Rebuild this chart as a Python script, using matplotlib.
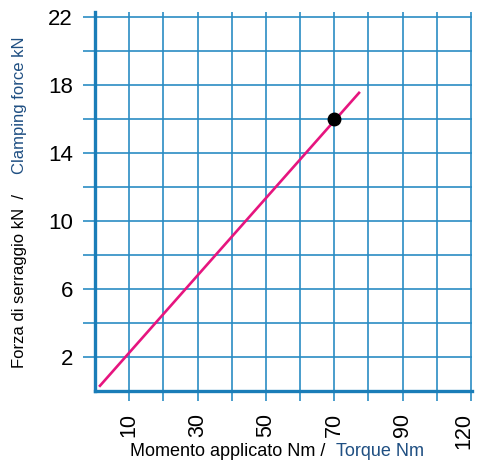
import matplotlib
matplotlib.use('Agg')
import matplotlib.pyplot as plt
import matplotlib.transforms as mtransforms

# dati: momento applicato (Nm) e forza di serraggio (kN)
torque = [1.2, 77.5]
force = [0.25, 17.6]
point_torque = [70]
point_force = [16]

x_ticks = list(range(10, 111, 10))
x_labels = ['10', '', '30', '', '50', '', '70', '', '90', '', '120']
y_ticks = list(range(2, 23, 2))
y_labels = ['2', '', '6', '', '10', '', '14', '', '18', '', '22']

plt.rcParams['font.family'] = ['Liberation Sans', 'DejaVu Sans']

blue = '#1a7db8'
grid_blue = '#2a8cc4'

fig = plt.figure(figsize=(4.78, 4.61), dpi=100)
ax = fig.add_axes([95 / 478, 70 / 461, 377 / 478, 379 / 461])

ax.plot(torque, force, color='#e6157f', linewidth=1.9, solid_capstyle='butt', zorder=3)
ax.plot(point_torque, point_force, 'o', color='black', markersize=9, zorder=4)

ax.set_xlim(0, 110.3)
ax.set_ylim(0, 22.3)
ax.set_xticks(x_ticks)
ax.set_xticklabels(x_labels, rotation=90, fontsize=15.5)
ax.set_yticks(y_ticks)
ax.set_yticklabels(y_labels, fontsize=16)

ax.grid(True, color=grid_blue, linewidth=1.2)
ax.set_axisbelow(True)
ax.tick_params(axis='x', length=7, width=1.2, color=grid_blue, pad=9)
ax.tick_params(axis='y', length=9, width=1.2, color=grid_blue, pad=7)

# ultima etichetta spostata un poco a sinistra per restare nel riquadro
last = ax.get_xticklabels()[-1]
last.set_transform(last.get_transform() + mtransforms.ScaledTranslation(-7 / 100, 0, fig.dpi_scale_trans))

for side in ['top', 'right']:
    ax.spines[side].set_visible(False)
for side in ['left', 'bottom']:
    ax.spines[side].set_color(blue)
    ax.spines[side].set_linewidth(2.4)

# etichette bicolori
fig.text(325 / 478, 5 / 461, 'Momento applicato Nm /', ha='right', va='baseline',
         fontsize=13, color='black')
fig.text(336 / 478, 5 / 461, 'Torque Nm', ha='left', va='baseline',
         fontsize=13, color='#1f4f82')
fig.text(20 / 478, 1 - 194 / 461, 'Forza di serraggio kN  /', rotation=90,
         ha='center', va='top', fontsize=12, color='black')
fig.text(20 / 478, 1 - 174 / 461, 'Clamping force kN', rotation=90,
         ha='center', va='bottom', fontsize=12, color='#1f4f82')

fig.savefig('out.png', dpi=100)
